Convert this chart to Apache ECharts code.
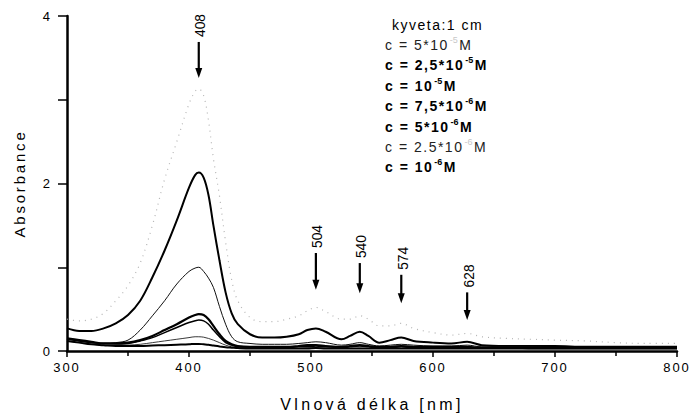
<!DOCTYPE html>
<html>
<head>
<meta charset="utf-8">
<script src="https://cdn.jsdelivr.net/npm/echarts@6/dist/echarts.min.js"></script>
<style>
  html, body { margin: 0; padding: 0; background: #fff; }
  #chart { width: 693px; height: 417px; }
  /* spaced-out lettering, keyed on font size */
  #chart text { letter-spacing: 0; }
  #chart text[style*="13px"] { letter-spacing: 2px; }
  #chart text[style*="14px"] { letter-spacing: 1.5px; }
  #chart text[style*="15px"] { letter-spacing: 2.8px; }
  #chart text[style*="16px"] { letter-spacing: 3.3px; }
</style>
</head>
<body>
<div id="chart"></div>
<script>
// Wavelength grid [nm]
const wavelengths = [300, 310, 320, 330, 340, 350, 360, 370, 380, 390, 400,
  405, 408, 412, 416, 420, 425, 430, 435, 440,
  450, 460, 470, 480, 490,
  497, 504, 512, 525, 532, 540, 547, 556, 565, 574, 584,
  600, 615, 628, 640, 660, 680, 700, 725, 750, 775, 800];

// Absorbance spectra, one per concentration
const abs5e5 = [0.38, 0.36, 0.38, 0.45, 0.60, 0.78, 1.05, 1.50, 2.05, 2.50, 2.95,
  3.10, 3.13, 3.05, 2.75, 2.30, 1.85, 1.30, 0.85, 0.60,
  0.40, 0.35, 0.35, 0.38, 0.42,
  0.48, 0.52, 0.47, 0.38, 0.38, 0.42, 0.38, 0.30, 0.30, 0.33, 0.27,
  0.22, 0.19, 0.21, 0.17, 0.15, 0.14, 0.13, 0.12, 0.10, 0.09, 0.09];
const abs25e6x10 = [0.27, 0.24, 0.24, 0.27, 0.33, 0.43, 0.60, 0.88, 1.20, 1.56, 1.95,
  2.10, 2.13, 2.07, 1.86, 1.50, 1.08, 0.70, 0.45, 0.32,
  0.20, 0.16, 0.16, 0.17, 0.20,
  0.25, 0.27, 0.23, 0.14, 0.18, 0.23, 0.18, 0.10, 0.13, 0.16, 0.12,
  0.10, 0.09, 0.11, 0.07, 0.06, 0.06, 0.06, 0.05, 0.05, 0.05, 0.05];
const abs1e5 = [0.15, 0.12, 0.10, 0.09, 0.10, 0.13, 0.25, 0.42, 0.60, 0.80, 0.95,
  0.99, 1.00, 0.95, 0.87, 0.76, 0.53, 0.32, 0.17, 0.11,
  0.09, 0.08, 0.08, 0.08, 0.09,
  0.10, 0.11, 0.10, 0.07, 0.08, 0.10, 0.08, 0.06, 0.07, 0.08, 0.07,
  0.06, 0.06, 0.07, 0.05, 0.05, 0.05, 0.04, 0.04, 0.04, 0.04, 0.04];
const abs75e7x10 = [0.15, 0.13, 0.11, 0.09, 0.09, 0.10, 0.13, 0.18, 0.25, 0.32, 0.40,
  0.43, 0.44, 0.43, 0.38, 0.30, 0.20, 0.12, 0.08, 0.06,
  0.05, 0.05, 0.05, 0.05, 0.06,
  0.07, 0.07, 0.06, 0.05, 0.06, 0.07, 0.06, 0.05, 0.05, 0.06, 0.05,
  0.05, 0.05, 0.05, 0.04, 0.04, 0.04, 0.04, 0.04, 0.04, 0.04, 0.04];
const abs5e6 = [0.14, 0.12, 0.10, 0.09, 0.085, 0.09, 0.12, 0.16, 0.22, 0.28, 0.34,
  0.36, 0.37, 0.36, 0.32, 0.25, 0.17, 0.10, 0.07, 0.05,
  0.04, 0.04, 0.04, 0.04, 0.05,
  0.05, 0.06, 0.05, 0.04, 0.05, 0.06, 0.05, 0.04, 0.04, 0.05, 0.04,
  0.04, 0.04, 0.04, 0.04, 0.04, 0.03, 0.03, 0.03, 0.03, 0.03, 0.03];
const abs25e7x10 = [0.12, 0.10, 0.08, 0.07, 0.065, 0.07, 0.08, 0.10, 0.12, 0.14, 0.16,
  0.17, 0.17, 0.165, 0.15, 0.13, 0.10, 0.07, 0.05, 0.04,
  0.03, 0.03, 0.03, 0.03, 0.03,
  0.035, 0.04, 0.035, 0.03, 0.03, 0.035, 0.03, 0.03, 0.03, 0.03, 0.03,
  0.03, 0.03, 0.03, 0.03, 0.03, 0.03, 0.03, 0.03, 0.03, 0.03, 0.03];
const abs1e6 = [0.12, 0.10, 0.08, 0.07, 0.06, 0.06, 0.06, 0.065, 0.07, 0.075, 0.08,
  0.085, 0.085, 0.08, 0.075, 0.065, 0.055, 0.045, 0.04, 0.035,
  0.03, 0.03, 0.03, 0.03, 0.03,
  0.03, 0.035, 0.03, 0.03, 0.03, 0.03, 0.03, 0.03, 0.03, 0.03, 0.03,
  0.03, 0.03, 0.03, 0.03, 0.03, 0.03, 0.03, 0.03, 0.03, 0.03, 0.03];

// Band maxima marked with arrows: wavelength, arrow top and arrow tip (absorbance units)
const bandPeaks = [408, 504, 540, 574, 628];
const arrowTop = [3.69, 1.17, 1.05, 0.91, 0.70];
const arrowTip = [3.26, 0.73, 0.69, 0.57, 0.37];

// Legend text
const legendTitle = 'kyveta:1 cm';
const legendMain = ['c = 5*10', 'c = 2,5*10', 'c = 10', 'c = 7,5*10', 'c = 5*10', 'c = 2.5*10', 'c = 10'];
const legendExp = ['-5', '-5', '-5', '-6', '-6', '-6', '-6'];
const legendUnit = 'M';

const FONT = '"Liberation Sans", Arial, Helvetica, sans-serif';

const spectra = [abs5e5, abs25e6x10, abs1e5, abs75e7x10, abs5e6, abs25e7x10, abs1e6];
const lineStyles = [
  { color: '#b4b4b4', width: 1.2, type: [1, 5] },
  { color: '#000', width: 2 },
  { color: '#111', width: 1 },
  { color: '#000', width: 2.2 },
  { color: '#000', width: 1.5 },
  { color: '#222', width: 0.9 },
  { color: '#000', width: 2 }
];
const legendBold = [false, true, true, true, true, false, true];

const chart = echarts.init(document.getElementById('chart'), null, { renderer: 'svg' });

const blackLine = { color: '#000', width: 2.5 };

chart.setOption({
  animation: false,
  backgroundColor: '#fff',
  grid: { left: 67, right: 16, top: 16, bottom: 66 },
  xAxis: {
    type: 'value', min: 300, max: 800, interval: 100,
    axisLine: { lineStyle: blackLine },
    axisTick: { length: 6, lineStyle: { color: '#000', width: 1.5 } },
    minorTick: { show: true, splitNumber: 2, length: 5, lineStyle: { color: '#000', width: 1.5 } },
    splitLine: { show: false },
    axisLabel: { color: '#000', fontSize: 13, fontFamily: FONT, margin: 10 },
    name: 'Vlnová délka [nm]', nameLocation: 'middle', nameGap: 45,
    nameTextStyle: { color: '#000', fontSize: 16, fontFamily: FONT }
  },
  yAxis: {
    type: 'value', min: 0, max: 4, interval: 1,
    axisLine: { show: true, lineStyle: blackLine },
    axisTick: { show: true, length: 9, lineStyle: { color: '#000', width: 1.5 } },
    splitLine: { show: false },
    axisLabel: {
      color: '#000', fontSize: 13, fontFamily: FONT, margin: 15,
      formatter: v => (v % 2 === 0 ? String(v) : '')
    },
    name: 'Absorbance', nameLocation: 'middle', nameGap: 40,
    nameTextStyle: { color: '#000', fontSize: 15, fontFamily: FONT }
  },
  series: spectra.map((arr, i) => ({
    type: 'line',
    name: legendMain[i] + legendExp[i] + legendUnit,
    data: wavelengths.map((w, j) => [w, arr[j]]),
    showSymbol: false,
    smooth: 0.35,
    lineStyle: lineStyles[i],
    z: 2 + i
  }))
});

// Arrows and rotated band labels, placed through the grid's coordinate system
const measureCtx = document.createElement('canvas').getContext('2d');
function advance(text, font, spacing) {
  measureCtx.font = font;
  return measureCtx.measureText(text).width + text.length * spacing;
}

const graphics = [];
bandPeaks.forEach((w, i) => {
  const top = chart.convertToPixel({ gridIndex: 0 }, [w, arrowTop[i]]);
  const tip = chart.convertToPixel({ gridIndex: 0 }, [w, arrowTip[i]]);
  const x = top[0];
  graphics.push({
    type: 'line', silent: true,
    shape: { x1: x, y1: top[1], x2: x, y2: tip[1] - 8 },
    style: { stroke: '#000', lineWidth: 2.2 }
  });
  graphics.push({
    type: 'polygon', silent: true,
    shape: { points: [[x - 3.5, tip[1] - 10], [x + 3.5, tip[1] - 10], [x, tip[1]]] },
    style: { fill: '#000' }
  });
  graphics.push({
    type: 'text', silent: true,
    x: x + 2, y: top[1] - 16.5, rotation: Math.PI / 2,
    style: { text: String(w), font: '13.8px ' + FONT, fill: '#000', align: 'center', verticalAlign: 'middle' }
  });
});

// Concentration key, top right
const keyX = 385, keyY0 = 45, keyStep = 20.4;
graphics.push({
  type: 'text', silent: true, x: 392, y: 25,
  style: { text: legendTitle, font: '14px ' + FONT, fill: '#000', align: 'left', verticalAlign: 'middle' }
});
legendMain.forEach((main, i) => {
  const y = keyY0 + i * keyStep;
  const weight = legendBold[i] ? 'bold ' : '';
  const mainFont = weight + '14px ' + FONT;
  const expFont = weight + '9px ' + FONT;
  const faded = !legendBold[i];
  const xExp = keyX + advance(main, mainFont, 1.5) + 1;
  const xUnit = xExp + advance(legendExp[i], expFont, 0) + 1.5;
  graphics.push({
    type: 'text', silent: true, x: keyX, y: y,
    style: { text: main, font: mainFont, fill: faded ? '#222' : '#000', align: 'left', verticalAlign: 'middle' }
  });
  graphics.push({
    type: 'text', silent: true, x: xExp, y: y - 5,
    style: { text: legendExp[i], font: expFont, fill: faded ? '#c8c8c8' : '#000', align: 'left', verticalAlign: 'middle' }
  });
  graphics.push({
    type: 'text', silent: true, x: xUnit, y: y,
    style: { text: legendUnit, font: mainFont, fill: faded ? '#222' : '#000', align: 'left', verticalAlign: 'middle' }
  });
});

chart.setOption({ graphic: graphics });
</script>
</body>
</html>
